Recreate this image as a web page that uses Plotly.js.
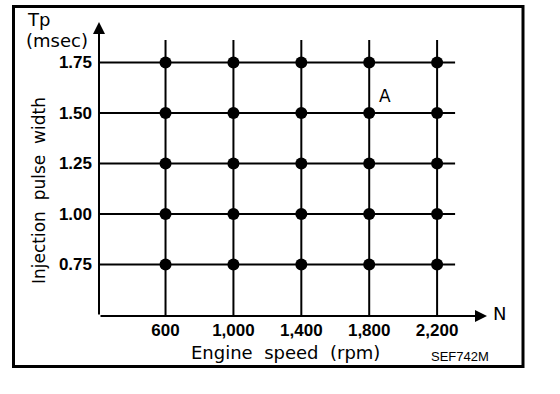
<!DOCTYPE html>
<html>
<head>
<meta charset="utf-8">
<script src="https://cdn.plot.ly/plotly-3.0.1.min.js"></script>
<style>html,body{margin:0;padding:0;background:#fff;}#chart{width:560px;height:394px;}</style>
</head>
<body>
<div id="chart"></div>
<script>
// Data
const engineSpeeds = [600, 1000, 1400, 1800, 2200];
const speedLabels = ['600', '1,000', '1,400', '1,800', '2,200'];
const pulseWidths = [0.75, 1.00, 1.25, 1.50, 1.75];
const pulseLabels = ['0.75', '1.00', '1.25', '1.50', '1.75'];
const pointLabel = {text: 'A', speed: 1800, pulse: 1.50};

// Axis extents (data units)
const xMin = 208, xMax = 2494, xGridEnd = 2306;
const yMin = 0.495, yMax = 1.9505, yGridEnd = 1.861;

// plot-area geometry in pixels
const L = 99, R = 73, T = 22, B = 78, W = 560, H = 394;
const PW = W - L - R, PH = H - T - B;
const px2x = X => (X - L) / PW;
const px2y = Y => (H - B - Y) / PH;

const traces = [];
const hx = [], hy = [];
pulseWidths.forEach(p => { hx.push(xMin, xGridEnd, null); hy.push(p, p, null); });
traces.push({x: hx, y: hy, mode: 'lines', line: {color: '#000', width: 2}, hoverinfo: 'skip', showlegend: false});
const vx = [], vy = [];
engineSpeeds.forEach(s => { vx.push(s, s, null); vy.push(yMin, yGridEnd, null); });
traces.push({x: vx, y: vy, mode: 'lines', line: {color: '#000', width: 2}, hoverinfo: 'skip', showlegend: false});
const ptx = [], pty = [];
engineSpeeds.forEach(s => pulseWidths.forEach(p => { ptx.push(s); pty.push(p); }));
traces.push({x: ptx, y: pty, mode: 'markers', marker: {color: '#000', size: 12}, showlegend: false});

const tickFont = {family: 'Liberation Sans, Arial, sans-serif', size: 17, color: '#000', weight: 'bold'};
const sans = 'DejaVu Sans, sans-serif';

const layout = {
  width: W, height: H,
  margin: {l: L, r: R, t: T, b: B, pad: 0},
  paper_bgcolor: '#fff', plot_bgcolor: '#fff',
  showlegend: false,
  xaxis: {range: [xMin, xMax], showgrid: false, zeroline: false, showline: false,
    tickvals: engineSpeeds, ticktext: speedLabels, ticks: '', tickfont: tickFont, ticklabelstandoff: 2},
  yaxis: {range: [yMin, yMax], showgrid: false, zeroline: false, showline: false,
    tickvals: pulseWidths, ticktext: pulseLabels, ticks: '', tickfont: tickFont, ticklabelstandoff: 6},
  shapes: [
    {type: 'rect', xref: 'paper', yref: 'paper',
     x0: px2x(13.5), x1: px2x(523), y0: px2y(366.5), y1: px2y(6.5),
     line: {color: '#000', width: 3}}
  ],
  annotations: [
    {x: xMax, y: yMin, ax: xMin, ay: yMin, xref: 'x', yref: 'y', axref: 'x', ayref: 'y', text: '',
     showarrow: true, arrowhead: 2, arrowsize: 1.2, arrowwidth: 2, arrowcolor: '#000', standoff: 0},
    {x: xMin, y: yMax, ax: xMin, ay: yMin, xref: 'x', yref: 'y', axref: 'x', ayref: 'y', text: '',
     showarrow: true, arrowhead: 2, arrowsize: 1.2, arrowwidth: 2, arrowcolor: '#000', standoff: 0},
    {x: pointLabel.speed, y: pointLabel.pulse, xref: 'x', yref: 'y', text: pointLabel.text, showarrow: false,
     xanchor: 'center', yanchor: 'middle', xshift: 16, yshift: 17, font: {family: sans, size: 17, color: '#000'}},
    {x: xMax, y: yMin, xref: 'x', yref: 'y', text: 'N', showarrow: false, xanchor: 'center', yanchor: 'middle',
     xshift: 12, yshift: 3, font: {family: sans, size: 18, color: '#000'}},
    {x: px2x(38.5), y: px2y(20), xref: 'paper', yref: 'paper', text: 'Tp', showarrow: false, xanchor: 'center', yanchor: 'middle',
     font: {family: sans, size: 18, color: '#000'}},
    {x: px2x(57), y: px2y(41), xref: 'paper', yref: 'paper', text: '(msec)', showarrow: false, xanchor: 'center', yanchor: 'middle',
     font: {family: sans, size: 18, color: '#000'}},
    {x: px2x(285), y: px2y(352), xref: 'paper', yref: 'paper', text: 'Engine\u00a0 speed\u00a0 (rpm)', showarrow: false, xanchor: 'center', yanchor: 'middle',
     font: {family: sans, size: 18, color: '#000'}},
    {x: px2x(39), y: px2y(191), xref: 'paper', yref: 'paper', text: 'Injection\u00a0 pulse\u00a0 width', showarrow: false, textangle: -90,
     xanchor: 'center', yanchor: 'middle', font: {family: sans, size: 17, color: '#000'}},
    {x: px2x(460), y: px2y(356), xref: 'paper', yref: 'paper', text: 'SEF742M', showarrow: false, xanchor: 'center', yanchor: 'middle',
     font: {family: 'Liberation Sans, Arial, sans-serif', size: 13, color: '#000'}}
  ]
};

Plotly.newPlot('chart', traces, layout, {displayModeBar: false, staticPlot: true});
</script>
</body>
</html>
